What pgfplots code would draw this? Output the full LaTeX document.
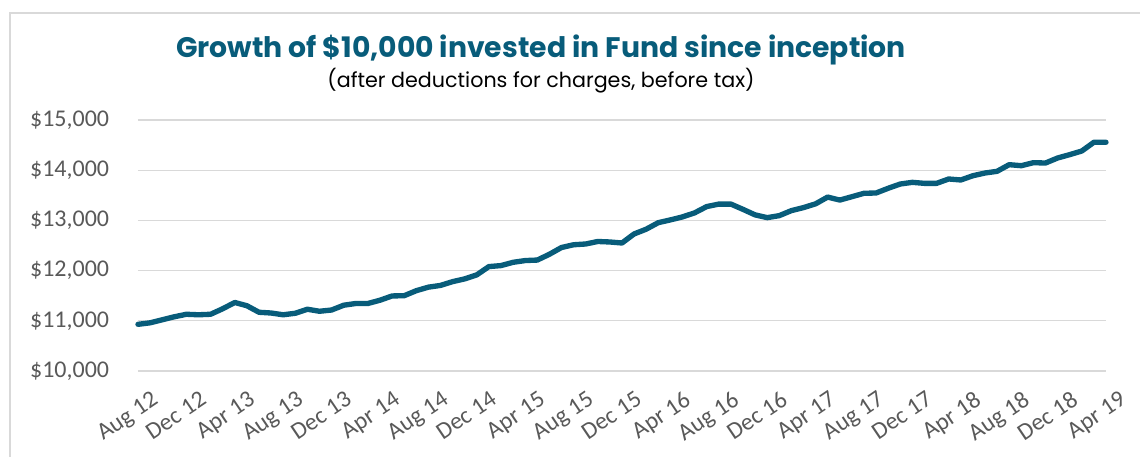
\documentclass[border=0pt]{standalone}
\usepackage{fontspec}
\setmainfont{Carlito}
\newfontfamily\titlefont{Poppins}
\usepackage{pgfplots}
\pgfplotsset{compat=1.18}
\definecolor{teal}{RGB}{8,92,122}
\definecolor{gridgray}{RGB}{217,217,217}
\definecolor{labgray}{RGB}{89,89,89}
\begin{document}
\begin{tikzpicture}
\path[use as bounding box] (-103.5pt,-64.5pt) rectangle (751.5pt,278.25pt);
\draw[gridgray, line width=0.9pt] (-96pt,-64.5pt) -- (-96pt,268.5pt) -- (751.5pt,268.5pt);
\begin{axis}[
  at={(0pt,0pt)}, anchor=south west,
  scale only axis, width=726pt, height=188.25pt,
  xmin=0, xmax=80, ymin=10000, ymax=15000,
  axis line style={draw=none},
  ymajorgrids, grid style={gridgray, line width=0.8pt},
  major tick length=0pt,
  scaled y ticks=false,
  xtick={0,4,...,80},
  xticklabels={Aug 12, Dec 12, Apr 13, Aug 13, Dec 13, Apr 14, Aug 14, Dec 14, Apr 15, Aug 15, Dec 15, Apr 16, Aug 16, Dec 16, Apr 17, Aug 17, Dec 17, Apr 18, Aug 18, Dec 18, Apr 19},
  ytick={10000,11000,12000,13000,14000,15000},
  yticklabels={{\textnormal{\$10,000}},{\textnormal{\$11,000}},{\textnormal{\$12,000}},{\textnormal{\$13,000}},{\textnormal{\$14,000}},{\textnormal{\$15,000}}},
  tick label style={font=\fontsize{18pt}{20pt}\selectfont, text=labgray, inner sep=0pt},
  yticklabel style={anchor=east, xshift=-21.5pt},
  xticklabel style={rotate=34, anchor=north east, yshift=-17pt},
  clip=false,
]
\addplot[teal, line width=4pt, line join=round, line cap=round] coordinates {
(0,10930) (1,10960) (2,11020) (3,11080) (4,11130) (5,11120) (6,11130) (7,11240) (8,11365) (9,11300)
(10,11170) (11,11155) (12,11120) (13,11150) (14,11230) (15,11190) (16,11215) (17,11310) (18,11345) (19,11345)
(20,11410) (21,11495) (22,11500) (23,11600) (24,11670) (25,11705) (26,11780) (27,11835) (28,11915) (29,12080)
(30,12100) (31,12165) (32,12200) (33,12210) (34,12325) (35,12460) (36,12515) (37,12530) (38,12580) (39,12570)
(40,12550) (41,12730) (42,12825) (43,12955) (44,13010) (45,13070) (46,13150) (47,13275) (48,13325) (49,13325)
(50,13220) (51,13110) (52,13055) (53,13095) (54,13195) (55,13255) (56,13330) (57,13465) (58,13405) (59,13472)
(60,13540) (61,13546) (62,13640) (63,13725) (64,13758) (65,13738) (66,13738) (67,13825) (68,13805) (69,13890)
(70,13944) (71,13978) (72,14110) (73,14090) (74,14150) (75,14143) (76,14243) (77,14310) (78,14382) (79,14556)
(80,14556)
};
\end{axis}
\node[anchor=base, inner sep=0pt, text=teal, font=\titlefont\bfseries\fontsize{21.2pt}{23pt}\selectfont] at (302.25pt,234.75pt) {Growth of \$10,000 invested in Fund since inception};
\node[anchor=base, inner sep=0pt, text=black, font=\titlefont\fontsize{15.5pt}{17pt}\selectfont] at (302.25pt,212.25pt) {(after deductions for charges, before tax)};
\end{tikzpicture}
\end{document}
